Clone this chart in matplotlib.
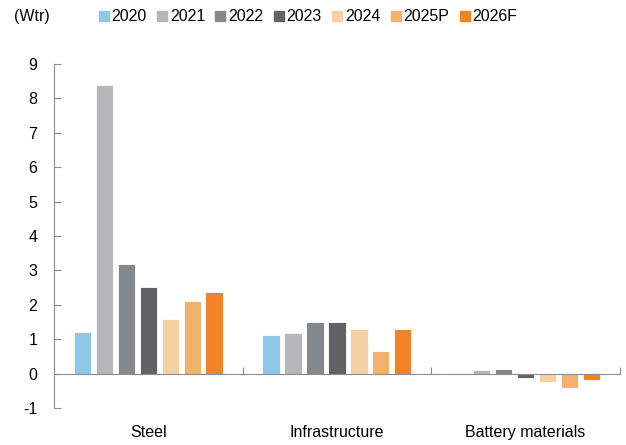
import matplotlib
matplotlib.use('Agg')
import matplotlib.pyplot as plt
from matplotlib.lines import Line2D
import matplotlib.transforms as mtransforms
import numpy as np

# ── Data ──
categories = ['Steel', 'Infrastructure', 'Battery materials']
years = ['2020', '2021', '2022', '2023', '2024', '2025P', '2026F']
steel = [1.2, 8.4, 3.2, 2.53, 1.6, 2.1, 2.38]
infrastructure = [1.11, 1.18, 1.51, 1.49, 1.29, 0.65, 1.31]
battery = [0.02, 0.1, 0.12, -0.14, -0.25, -0.42, -0.18]
yticks = [-1, 0, 1, 2, 3, 4, 5, 6, 7, 8, 9]

colors = ['#8EC8E8', '#B5B6B8', '#85888B', '#606365', '#F5D0A4', '#F0B26C', '#F28427']

plt.rcParams.update({
    'font.family': ['Liberation Sans', 'DejaVu Sans'],
    'font.size': 11.5,
})

fig = plt.figure(figsize=(6.26, 4.45), dpi=100)
ax = fig.add_axes([0.0863, 0.0831, 0.9037, 0.7729])

values = np.array([steel, infrastructure, battery])
x = np.arange(len(categories))
pitch = 0.1164
width = 0.092
for i, (yr, col) in enumerate(zip(years, colors)):
    ax.bar(x + (i - 3) * pitch, values[:, i], width=width, color=col,
           edgecolor='white', linewidth=0.6, zorder=2)

ax.set_xlim(-0.5, 2.5)
ax.set_ylim(-1, 9)
ax.set_yticks(yticks)
ax.set_yticklabels([str(t) for t in yticks])

axis_col = '#8C8C8C'
for s in ['top', 'right']:
    ax.spines[s].set_visible(False)
ax.spines['left'].set_color(axis_col)
ax.spines['bottom'].set_color(axis_col)
ax.spines['bottom'].set_position(('data', 0))
ax.spines['bottom'].set_zorder(3)

ax.set_xticks([0.5, 1.5, 2.5])
ax.set_xticklabels([])
ax.tick_params(axis='x', direction='in', length=5, color=axis_col)
ax.tick_params(axis='y', direction='in', length=5, color=axis_col, pad=12)

trans = mtransforms.blended_transform_factory(ax.transData, ax.transAxes)
for xi, cat in zip(x, categories):
    ax.text(xi, -0.07, cat, transform=trans, ha='center', va='center')

fig.text(0.022, 0.962, '(Wtr)', ha='left', va='center')

handles = [Line2D([], [], marker='s', linestyle='none', markersize=7,
                  markerfacecolor=c, markeredgecolor=c) for c in colors]
fig.legend(handles, years, loc='center left', bbox_to_anchor=(0.145, 0.962),
           ncol=7, frameon=False, handletextpad=0.1, columnspacing=0.55,
           handlelength=0.8, borderaxespad=0)

fig.savefig('out.png', dpi=100)
